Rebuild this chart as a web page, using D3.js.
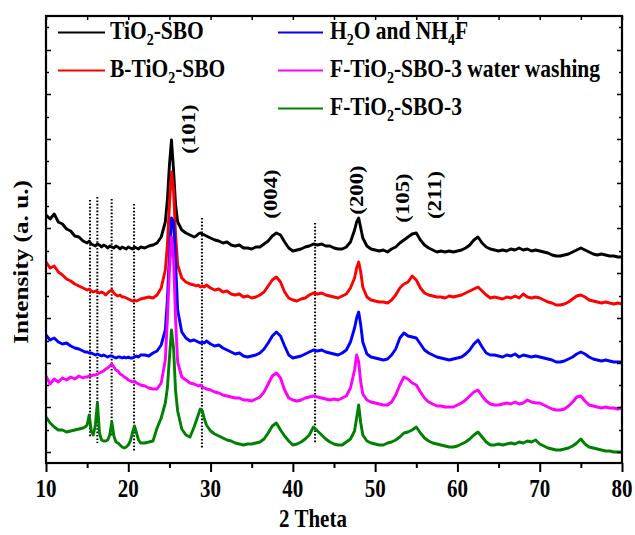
<!DOCTYPE html>
<html><head><meta charset="utf-8">
<script src="https://cdn.jsdelivr.net/npm/d3@7"></script>
<style>body{margin:0;background:#fff}</style>
</head><body>
<svg id="chart" width="635" height="535"></svg>
<script>
// ---------- DATA ----------
const twoTheta = [
  10, 10.5, 11, 11.5, 12, 12.5, 13, 13.5, 14,
  14.5, 14.75, 15, 15.25, 15.5, 15.75, 16, 16.25, 16.5, 16.75, 17, 17.25, 17.5, 17.75, 18, 18.25, 18.5, 18.75, 19, 19.25, 19.5, 19.75, 20, 20.25, 20.5, 20.75, 21, 21.25, 21.5,
  22, 22.5, 23, 23.5, 24,
  24.5, 24.75, 25, 25.25, 25.5, 25.75, 26,
  26.5, 27, 27.5, 28, 28.25, 28.5, 28.75, 29, 29.25, 29.5,
  30, 30.5, 31, 31.5, 32, 32.5, 33, 33.5, 34, 34.5,
  35, 35.5, 36, 36.5, 37, 37.5, 38, 38.5, 39, 39.5,
  40, 40.5, 41, 41.5, 42, 42.5, 43, 43.5, 44, 44.5,
  45, 45.5, 46, 46.5, 47, 47.5,
  47.75, 48, 48.25, 48.5,
  49, 49.5,
  50, 50.5, 51, 51.5, 52, 52.5, 53, 53.5, 54, 54.5,
  55, 55.5, 56, 56.5, 57, 57.5, 58, 58.5, 59, 59.5,
  60, 60.5, 61, 61.5, 62, 62.5, 63, 63.5, 64, 64.5,
  65, 65.5, 66, 66.5, 67, 67.5, 68, 68.5, 69, 69.5,
  70, 70.5, 71, 71.5, 72, 72.5, 73, 73.5, 74, 74.5,
  75, 75.5, 76, 76.5, 77, 77.5, 78, 78.5, 79, 79.5,
  80
];

const tio2SBO = [
  248, 244, 249, 241, 239, 234, 232, 227, 226,
  222, 221, 220, 222, 219, 218, 217, 219, 218, 216, 218, 217, 215, 217, 216, 215, 217, 216, 214, 216, 215, 214, 216, 215, 214, 216, 215, 214, 216,
  215, 217, 218, 220, 226,
  241, 263, 298, 323, 293, 258, 241,
  233, 230, 228, 226, 227, 229, 230, 229, 228, 227,
  225, 223, 222, 220, 221, 218, 217, 218, 215, 215,
  214, 216, 216, 219, 222, 227, 230, 228, 221, 215,
  212, 213, 214, 216, 217, 219, 218, 219, 217, 217,
  215, 214, 214, 216, 221, 233,
  241, 245, 235, 225,
  217, 214,
  213, 212, 213, 211, 214, 216, 220, 223, 226, 229,
  230, 223, 218, 215, 213, 211, 212, 211, 212, 211,
  212, 213, 215, 218, 223, 226, 220, 216, 214, 213,
  212, 213, 212, 214, 213, 215, 213, 214, 212, 213,
  212, 211, 210, 208, 207, 207, 208, 209, 211, 213,
  215, 213, 211, 209, 208, 209, 208, 207, 207, 206,
  206
];

const bTiO2SBO = [
  201, 195, 197, 191, 188, 184, 182, 179, 177,
  175, 174, 173, 174, 172, 171, 172, 171, 170, 171, 170, 168, 170, 172, 173, 170, 168, 167, 168, 166, 166, 165, 164, 163, 162, 163, 162, 163, 164,
  165, 166, 165, 168, 175,
  193, 218, 258, 291, 273, 228, 198,
  185, 181, 179, 178, 177, 178, 176, 177, 176, 178,
  175, 173, 174, 171, 172, 169, 168, 169, 166, 167,
  165, 166, 168, 171, 177, 183, 186, 181, 171, 165,
  163, 162, 164, 165, 168, 170, 169, 170, 168, 167,
  166, 165, 167, 169, 175, 185,
  195, 201, 191, 176,
  166, 163,
  162, 161, 161, 160, 163, 168, 175, 179, 181, 187,
  183, 175, 170, 168, 167, 166, 166, 165, 167, 166,
  167, 168, 170, 172, 174, 176, 172, 168, 165, 166,
  165, 164, 166, 165, 167, 165, 169, 166, 165, 166,
  165, 163, 161, 160, 158, 158, 159, 161, 164, 167,
  168, 166, 163, 162, 161, 160, 161, 160, 159, 160,
  159
];

const h2oNH4F = [
  128, 123, 125, 121, 119, 120, 117, 115, 114,
  112, 111, 111, 110, 110, 109, 108, 109, 108, 107, 108, 107, 106, 107, 107, 106, 105, 106, 106, 105, 106, 105, 106, 105, 105, 106, 107, 106, 108,
  108, 107, 110, 112, 118,
  133, 163, 208, 245, 241, 201, 153,
  131, 125, 122, 123, 122, 121, 120, 121, 120, 122,
  119, 117, 118, 115, 113, 111, 109, 110, 107, 106,
  107, 108, 110, 114, 120, 127, 131, 127, 117, 108,
  105, 106, 107, 109, 111, 113, 112, 113, 111, 110,
  109, 108, 110, 113, 121, 135,
  145, 151, 138, 121,
  109, 106,
  105, 104, 103, 104, 108, 114, 125, 130, 127, 126,
  125, 119, 113, 110, 108, 106, 105, 104, 103, 104,
  105, 106, 109, 113, 119, 123, 116, 110, 108, 108,
  107, 106, 108, 107, 109, 106, 108, 107, 106, 107,
  106, 105, 104, 103, 101, 101, 102, 104, 106, 109,
  111, 109, 106, 104, 103, 102, 103, 102, 101, 101,
  101
];

const fTiO2SBO3Washed = [
  87, 79, 84, 81, 85, 83, 86, 84, 87,
  85, 86, 86, 87, 87, 88, 88, 89, 90, 91, 92, 94, 95, 97, 99, 96, 93, 92, 89, 88, 86, 85, 83, 82, 81, 82, 80, 79, 78,
  77, 75, 74, 74, 80,
  103, 143, 193, 226, 205, 143, 101,
  86, 83, 80, 79, 78, 77, 78, 76, 75, 74,
  73, 71, 70, 68, 67, 66, 65, 65, 63, 63,
  62, 64, 66, 71, 79, 87, 90, 85, 73, 65,
  63, 62, 63, 65, 66, 67, 66, 65, 64, 63,
  64, 63, 65, 67, 75, 93,
  108, 101, 81, 69,
  63, 61,
  60, 59, 58, 58, 61, 68, 78, 86, 84, 80,
  78, 71, 65, 61, 59, 57, 57, 56, 56, 56,
  58, 60, 63, 67, 71, 73, 67, 62, 59, 58,
  58, 59, 60, 59, 61, 59, 60, 63, 61, 60,
  60, 58, 56, 54, 53, 53, 54, 57, 61, 66,
  67, 62, 58, 57, 56, 55, 56, 55, 55, 54,
  55
];

const fTiO2SBO3 = [
  46, 40, 36, 33, 33, 31, 32, 33, 34,
  35, 36, 38, 48, 32, 28, 38, 60, 30, 23, 22, 22, 23, 28, 41, 27, 21, 20, 18, 16, 15, 16, 18, 22, 30, 37, 30, 23, 20,
  20, 21, 22, 35, 45,
  60, 75, 105, 133, 115, 72, 52,
  34, 28, 26, 36, 42, 48, 54, 52, 44, 38,
  32, 29, 27, 25, 23, 22, 20, 19, 18, 19,
  19, 20, 21, 24, 30, 37, 40, 33, 27, 22,
  18, 19, 21, 24, 28, 36, 32, 28, 24, 21,
  19, 18, 18, 21, 24, 32,
  45, 58, 40, 28,
  22, 20,
  19, 18, 18, 20, 21, 23, 26, 30, 31, 33,
  36, 30, 25, 22, 20, 19, 18, 17, 16, 16,
  17, 19, 21, 24, 28, 31, 26, 21, 18, 18,
  19, 18, 19, 20, 19, 21, 20, 22, 21, 23,
  19, 17, 15, 14, 13, 13, 14, 15, 17, 20,
  24, 19, 16, 15, 14, 13, 12, 12, 11, 11,
  11
];

const seriesValues = [tio2SBO, bTiO2SBO, h2oNH4F, fTiO2SBO3Washed, fTiO2SBO3];
const seriesColors = ["#000000", "#ff0000", "#0000ff", "#ff00ff", "#008000"];
// legend labels: [text, isSubscript] parts
const seriesLabels = [
  [["TiO", 0], ["2", 1], ["-SBO", 0]],
  [["B-TiO", 0], ["2", 1], ["-SBO", 0]],
  [["H", 0], ["2", 1], ["O and NH", 0], ["4", 1], ["F", 0]],
  [["F-TiO", 0], ["2", 1], ["-SBO-3 water washing", 0]],
  [["F-TiO", 0], ["2", 1], ["-SBO-3", 0]]
];

const xTicks = [10, 20, 30, 40, 50, 60, 70, 80];
const xMinorTicks = [15, 25, 35, 45, 55, 65, 75];
const yTicks = [11, 56, 100, 145, 190, 235, 280, 324, 369, 413];
const yMinorTicks = [33, 78, 122, 167, 212, 257, 302, 346, 391, 436];

const peakLabels = ["(101)", "(004)", "(200)", "(105)", "(211)"];
const peakLabelTheta = [27.56, 37.46, 47.91, 53.5, 57.39];
const peakLabelHeight = [334, 269, 273, 265, 268];

const refLineTheta = [15.35, 16.24, 17.98, 20.7, 28.95, 42.7];
const refLineTop = [263, 266, 264, 259, 245, 240];
const refLineBottom = [25, 20, 26, 11, 15, 20];

// ---------- DRAW ----------
const svg = d3.select("#chart");
const FONT = "'Liberation Serif','Times New Roman',Times,serif";
const SY = 1.2;
const x = d3.scaleLinear().domain([10, 80]).range([46, 622]);
const y = d3.scaleLinear().domain([0, 447]).range([463, 16]);

// reference dotted lines
svg.append("g").selectAll("line").data(refLineTheta).join("line")
  .attr("x1", d => x(d)).attr("x2", d => x(d))
  .attr("y1", (d, i) => y(refLineTop[i])).attr("y2", (d, i) => y(refLineBottom[i]))
  .attr("stroke", "#000").attr("stroke-width", 2).attr("stroke-dasharray", "1.6,1.8");

// curves
const line = d3.line().x((d, i) => x(twoTheta[i])).y(d => y(d));
svg.append("g").selectAll("path").data(seriesValues).join("path")
  .attr("d", d => line(d))
  .attr("fill", "none")
  .attr("stroke", (d, i) => seriesColors[i])
  .attr("stroke-width", 2.9)
  .attr("stroke-linejoin", "round");

// axes ticks
function styleAxis(g, w) {
  g.select(".domain").remove();
  g.selectAll(".tick line").attr("stroke", "#000").attr("stroke-width", w);
  g.selectAll(".tick text").remove();
}
svg.append("g").attr("transform", "translate(0,463)")
  .call(d3.axisBottom(x).tickValues(xTicks).tickSize(9)).call(g => styleAxis(g, 2));
svg.append("g").attr("transform", "translate(0,463)")
  .call(d3.axisBottom(x).tickValues(xMinorTicks).tickSize(5)).call(g => styleAxis(g, 2));
svg.append("g").attr("transform", "translate(0,16)")
  .call(d3.axisTop(x).tickValues(xTicks.concat(xMinorTicks)).tickSize(-4)).call(g => styleAxis(g, 1.5));
svg.append("g").attr("transform", "translate(46,0)")
  .call(d3.axisLeft(y).tickValues(yTicks).tickSize(-5)).call(g => styleAxis(g, 1.5));
svg.append("g").attr("transform", "translate(46,0)")
  .call(d3.axisLeft(y).tickValues(yMinorTicks).tickSize(-3)).call(g => styleAxis(g, 1.5));
svg.append("g").attr("transform", "translate(622,0)")
  .call(d3.axisRight(y).tickValues(yTicks).tickSize(-5)).call(g => styleAxis(g, 1.5));
svg.append("g").attr("transform", "translate(622,0)")
  .call(d3.axisRight(y).tickValues(yMinorTicks).tickSize(-3)).call(g => styleAxis(g, 1.5));

// frame
svg.append("rect").attr("x", x(10)).attr("y", y(447))
  .attr("width", x(80) - x(10)).attr("height", y(0) - y(447))
  .attr("fill", "none").attr("stroke", "#000").attr("stroke-width", 2.2);

// tick labels
svg.append("g").selectAll("g").data(xTicks).join("g")
  .attr("transform", d => `translate(${x(d)},497) scale(1,${SY})`)
  .append("text").attr("text-anchor", "middle")
  .attr("font-family", FONT).attr("font-weight", "bold").attr("font-size", 21)
  .text(d => d);

// axis titles
svg.append("g").attr("transform", `translate(313,527) scale(1,${SY})`)
  .append("text").attr("text-anchor", "middle")
  .attr("font-family", FONT).attr("font-weight", "bold").attr("font-size", 21)
  .text("2 Theta");
svg.append("g").attr("transform", `translate(28,262) scale(1,${SY}) rotate(-90)`)
  .append("text").attr("text-anchor", "middle")
  .attr("font-family", FONT).attr("font-weight", "bold").attr("font-size", 21)
  .text("Intensity (a. u.)");

// peak labels
svg.append("g").selectAll("g").data(peakLabels).join("g")
  .attr("transform", (d, i) => `translate(${x(peakLabelTheta[i]) + 4.75},${y(peakLabelHeight[i])}) scale(1,${SY}) rotate(-90)`)
  .append("text").attr("text-anchor", "middle")
  .attr("font-family", FONT).attr("font-weight", "bold").attr("font-size", 19)
  .text(d => d);

// legend
const legendCols = [[58, 105, 110], [278, 323, 330]];
const legendRows = [39, 77, 115];
const legendPos = [[0, 0], [0, 1], [1, 0], [1, 1], [1, 2]];
seriesLabels.forEach((parts, i) => {
  const [c, r] = legendPos[i];
  const [lx1, lx2, tx] = legendCols[c];
  const by = legendRows[r];
  svg.append("line").attr("x1", lx1).attr("x2", lx2)
    .attr("y1", by - 6.5).attr("y2", by - 6.5)
    .attr("stroke", seriesColors[i]).attr("stroke-width", 2.2);
  const t = svg.append("g").attr("transform", `translate(${tx},${by}) scale(1,${SY})`)
    .append("text").attr("font-family", FONT).attr("font-weight", "bold").attr("font-size", 21.5);
  let sub = false;
  parts.forEach(([s, isSub]) => {
    const ts = t.append("tspan").text(s);
    if (isSub && !sub) { ts.attr("dy", 5).attr("font-size", 14); sub = true; }
    else if (!isSub && sub) { ts.attr("dy", -5); sub = false; }
    else if (isSub) { ts.attr("font-size", 14); }
  });
});
</script>
</body></html>
